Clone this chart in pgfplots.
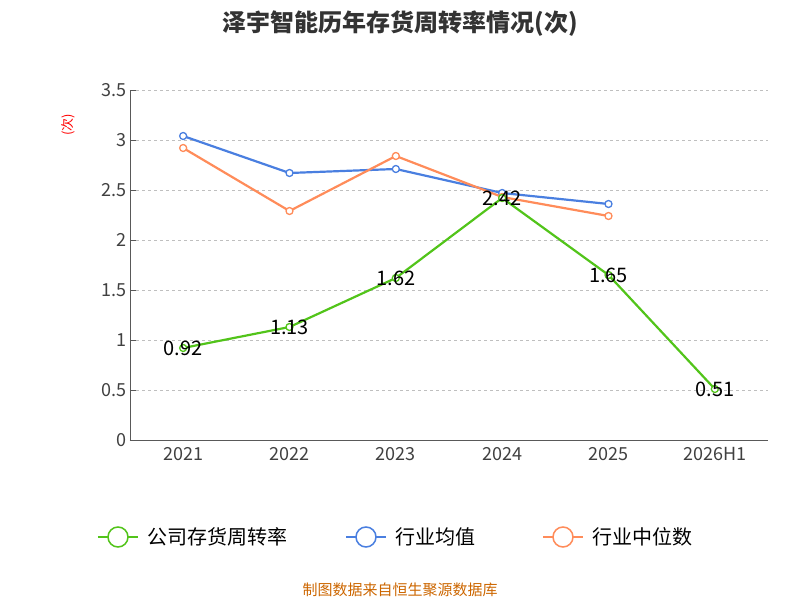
\documentclass[border=0pt]{standalone}
\usepackage{pgfplots}
\pgfplotsset{compat=1.18}
\usepackage{fontspec}
\setmainfont{Noto Sans CJK SC}
\definecolor{cg}{HTML}{52C41A}
\definecolor{cb}{HTML}{4A7FE0}
\definecolor{co}{HTML}{FF8C5A}
\begin{document}
\begin{tikzpicture}
\path (-130pt,-160pt) rectangle (670pt,440pt);
\begin{axis}[at={(0,0)},anchor=south west,scale only axis,width=638pt,height=350pt,
 xmin=-0.5,xmax=5.5,ymin=0,ymax=3.5,
 xtick={0,...,5},xticklabels={2021,2022,2023,2024,2025,2026H1},
 extra x ticks={-0.5,0.5,1.5,2.5,3.5,4.5,5.5},extra x tick labels={},
 extra x tick style={major tick length=6pt,grid=none},
 xtick style={draw=none},
 ytick={0,0.5,...,3.5},yticklabels={0,0.5,1,1.5,2,2.5,3,3.5},
 ymajorgrids,grid style={dashed,gray!50},
 axis y line*=left,axis x line*=bottom,
 axis line style={gray!70!black},
 ytick style={gray!70!black},major tick length=6pt,
 tick label style={font=\fontsize{18}{18}\selectfont,text=black!75},
 xticklabel style={yshift=-4pt},
 /pgf/number format/assume math mode=true,
 every axis plot/.append style={line width=2.2pt,mark=*,mark size=3.5pt,mark options={fill=white,line width=1.3pt}},
 clip=false]
\addplot[cb] coordinates {(0,3.04)(1,2.67)(2,2.71)(3,2.47)(4,2.36)};
\addplot[co] coordinates {(0,2.92)(1,2.29)(2,2.84)(3,2.43)(4,2.24)};
\addplot[cg,nodes near coords,point meta=explicit symbolic,
 every node near coord/.append style={font=\fontsize{20}{20}\selectfont,text=black,anchor=center,yshift=0pt}]
 coordinates {(0,0.92)[0.92](1,1.13)[1.13](2,1.62)[1.62](3,2.42)[2.42](4,1.65)[1.65](5,0.51)[0.51]};
\end{axis}
\node[font=\fontsize{24}{24}\selectfont\bfseries,text=black!80] at (270pt,416pt) {泽宇智能历年存货周转率情况(次)};
\node[rotate=90,text=red,font=\fontsize{13}{13}\selectfont] at (-62pt,315pt) {(次)};
\begin{scope}[shift={(0,-97pt)},font=\fontsize{20}{20}\selectfont]
\draw[cg,line width=2pt] (-32pt,0)--(8pt,0); \draw[cg,fill=white,line width=1.5pt] (-12pt,0) circle (10pt);
\node[anchor=west] at (14pt,0) {公司存货周转率};
\draw[cb,line width=2pt] (216pt,0)--(256pt,0); \draw[cb,fill=white,line width=1.5pt] (236pt,0) circle (10pt);
\node[anchor=west] at (262pt,0) {行业均值};
\draw[co,line width=2pt] (413pt,0)--(453pt,0); \draw[co,fill=white,line width=1.5pt] (433pt,0) circle (10pt);
\node[anchor=west] at (459pt,0) {行业中位数};
\end{scope}
\node[text=orange!80!black,font=\fontsize{15}{15}\selectfont] at (270pt,-150pt) {制图数据来自恒生聚源数据库};
\end{tikzpicture}
\end{document}
